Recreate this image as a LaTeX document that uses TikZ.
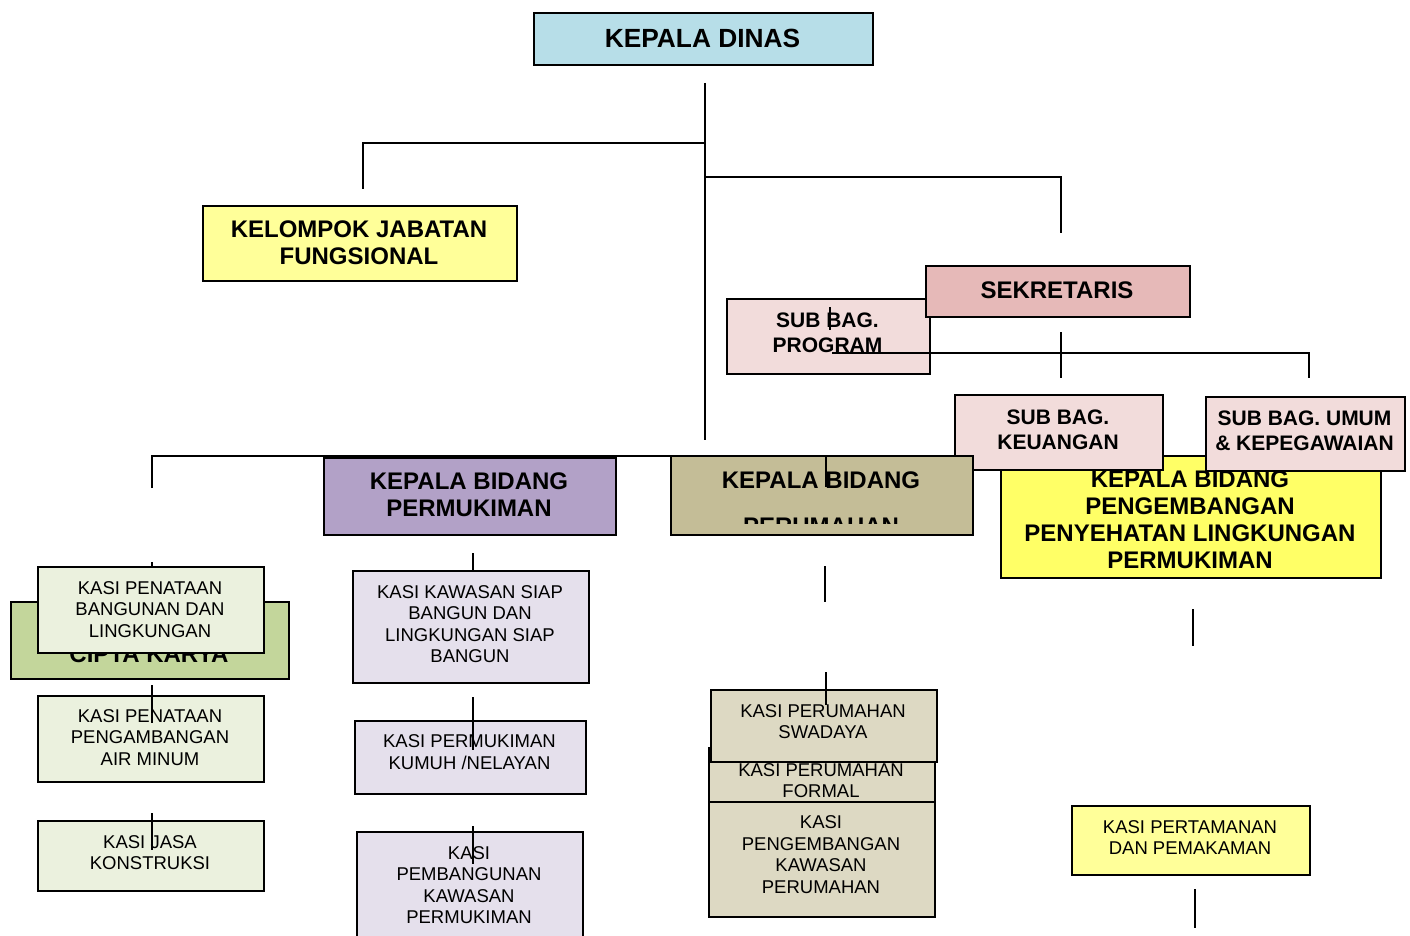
\documentclass[tikz,border=0pt]{standalone}
\usepackage{fontspec}
\setmainfont{Liberation Sans}
\definecolor{cDinas}{HTML}{B7DEE8}
\definecolor{cKJF}{HTML}{FFFF99}
\definecolor{cSek}{HTML}{E6B9B8}
\definecolor{cSub}{HTML}{F2DCDB}
\definecolor{cYel}{HTML}{FFFF66}
\definecolor{cPur}{HTML}{B2A1C7}
\definecolor{cTan}{HTML}{C4BD97}
\definecolor{cOli}{HTML}{C3D69B}
\definecolor{kGrn}{HTML}{EBF1DE}
\definecolor{kPur}{HTML}{E5E0EC}
\definecolor{kTan}{HTML}{DDD9C3}
\begin{document}
\begin{tikzpicture}[x=1pt,y=-1pt,
  bx/.style={draw=black, line width=1.6, anchor=north west, inner sep=0pt},
  ln/.style={line width=1.6},
  hdD/.style={align=center, inner sep=0pt, font=\bfseries\fontsize{26.3}{29}\selectfont},
  hd/.style={align=center, inner sep=0pt, font=\bfseries\fontsize{24}{27}\selectfont},
  sb/.style={align=center, inner sep=0pt, font=\bfseries\fontsize{21}{25}\selectfont},
  ks/.style={align=center, inner sep=0pt, font=\fontsize{18.5}{21.5}\selectfont}]
\useasboundingbox (0,0) rectangle (1410,936);

% connectors lying under the boxes
\draw[ln] (152,488) coordinate (hA) -- (152,456) coordinate (hB) -- (1193,456) coordinate (hC);

% top level
\node[bx, fill=cDinas, minimum width=339, minimum height=52] (dinas) at (533,12) {};
\node[hdD] (dinasT) at (702.5,38.5) {KEPALA DINAS};

\node[bx, fill=cKJF, minimum width=314, minimum height=75] (kjf) at (202,205) {};
\node[hd] (kjfT) at (359,243) {KELOMPOK JABATAN\\FUNGSIONAL};

% sekretariat
\node[bx, fill=cSub, minimum width=203, minimum height=75] (prog) at (726,298) {};
\node[sb] (progT) at (827.5,333) {SUB BAG.\\PROGRAM};
\node[bx, fill=cSek, minimum width=264, minimum height=51] (sek) at (925,265) {};
\node[hd] (sekT) at (1057,290.5) {SEKRETARIS};

% bidang heads
\node[bx, fill=cYel, minimum width=380, minimum height=122] (ppl) at (1000,455) {};
\node[hd] (pplT) at (1190,520) {KEPALA BIDANG\\PENGEMBANGAN\\PENYEHATAN LINGKUNGAN\\PERMUKIMAN};

\node[bx, fill=cSub, minimum width=208, minimum height=75] (keu) at (954,394) {};
\node[sb] (keuT) at (1058,430) {SUB BAG.\\KEUANGAN};
\node[bx, fill=cSub, minimum width=199, minimum height=74] (umum) at (1205,396) {};
\node[sb] (umumT) at (1304.5,431) {SUB BAG. UMUM\\\& KEPEGAWAIAN};

\node[bx, fill=cPur, minimum width=292, minimum height=77] (pmk) at (323,457) {};
\node[hd] (pmkT) at (469,495) {KEPALA BIDANG\\PERMUKIMAN};

\node[bx, fill=cTan, minimum width=302, minimum height=79] (prm) at (670,455) {};
\node[hd] (prmT1) at (821,480) {KEPALA BIDANG};
\begin{scope}
  \clip (671,456) rectangle (971,523);
  \node[hd] (prmT2) at (821,526) {PERUMAHAN};
\end{scope}

\node[bx, fill=cOli, minimum width=278, minimum height=77] (cipta) at (10,601) {};
\begin{scope}
  \clip (11,652) rectangle (287,677);
  \node[hd] (ciptaT) at (149,654) {CIPTA KARYA};
\end{scope}

% KASI column 1
\node[bx, fill=kGrn, minimum width=226, minimum height=86] (k11) at (37,566) {};
\node[ks] (k11T) at (150,609.5) {KASI PENATAAN\\BANGUNAN DAN\\LINGKUNGAN};
\node[bx, fill=kGrn, minimum width=226, minimum height=86] (k12) at (37,695) {};
\node[ks] (k12T) at (150,737.5) {KASI PENATAAN\\PENGAMBANGAN\\AIR MINUM};
\node[bx, fill=kGrn, minimum width=226, minimum height=70] (k13) at (37,820) {};
\node[ks] (k13T) at (150,852.5) {KASI JASA\\KONSTRUKSI};

% KASI column 2
\node[bx, fill=kPur, minimum width=236, minimum height=112] (k21) at (352,570) {};
\node[ks] (k21T) at (470,624) {KASI KAWASAN SIAP\\BANGUN DAN\\LINGKUNGAN SIAP\\BANGUN};
\node[bx, fill=kPur, minimum width=231, minimum height=73] (k22) at (354,720) {};
\node[ks] (k22T) at (469.5,752) {KASI PERMUKIMAN\\KUMUH /NELAYAN};
\node[bx, fill=kPur, minimum width=226, minimum height=110] (k23) at (356,831) {};
\node[ks] (k23T) at (469,885) {KASI\\PEMBANGUNAN\\KAWASAN\\PERMUKIMAN};

% KASI column 3
\node[bx, fill=kTan, minimum width=226, minimum height=54] (k32) at (708,747) {};
\node[ks] (k32T) at (821,780.5) {KASI PERUMAHAN\\FORMAL};
\node[bx, fill=kTan, minimum width=226, minimum height=115] (k33) at (708,801) {};
\node[ks] (k33T) at (821,854.5) {KASI\\PENGEMBANGAN\\KAWASAN\\PERUMAHAN};
\node[bx, fill=kTan, minimum width=226, minimum height=72] (k31) at (710,689) {};
\node[ks] (k31T) at (823,721.5) {KASI PERUMAHAN\\SWADAYA};

% KASI column 4
\node[bx, fill=cKJF, minimum width=238, minimum height=69] (k41) at (1071,805) {};
\node[ks] (k41T) at (1190,837.5) {KASI PERTAMANAN\\DAN PEMAKAMAN};

% connectors
\draw[ln] (705,83) coordinate (d1) -- (705,440) coordinate (d2);
\draw[ln] (363,189) coordinate (f1) -- (363,143) coordinate (f2) -- (705,143) coordinate (f3);
\draw[ln] (705,177) coordinate (s1) -- (1061,177) coordinate (s2) -- (1061,233) coordinate (s3);
\draw[ln] (830,307) coordinate (p1) -- (830,330) coordinate (p2);
\draw[ln] (832,353) coordinate (p3) -- (1309,353) coordinate (p4) -- (1309,378) coordinate (p5);
\draw[ln] (1061,332) coordinate (p6) -- (1061,378) coordinate (p7);
\draw[ln] (826,455) coordinate (r1) -- (826,487) coordinate (r2);

\draw[ln] (152,562) coordinate (a1) -- (152,567) coordinate (a2);
\draw[ln] (152,685) coordinate (a3) -- (152,723) coordinate (a4);
\draw[ln] (152,813) coordinate (a5) -- (152,850) coordinate (a6);

\draw[ln] (473,553) coordinate (b1) -- (473,570) coordinate (b2);
\draw[ln] (473,697) coordinate (b3) -- (473,750) coordinate (b4);
\draw[ln] (473,826) coordinate (b5) -- (473,864) coordinate (b6);

\draw[ln] (825,566) coordinate (c1) -- (825,602) coordinate (c2);
\draw[ln] (826,672) coordinate (c3) -- (826,705) coordinate (c4);

\draw[ln] (1193,609) coordinate (e1) -- (1193,646) coordinate (e2);
\draw[ln] (1195,889) coordinate (e3) -- (1195,928) coordinate (e4);
\end{tikzpicture}
\end{document}
